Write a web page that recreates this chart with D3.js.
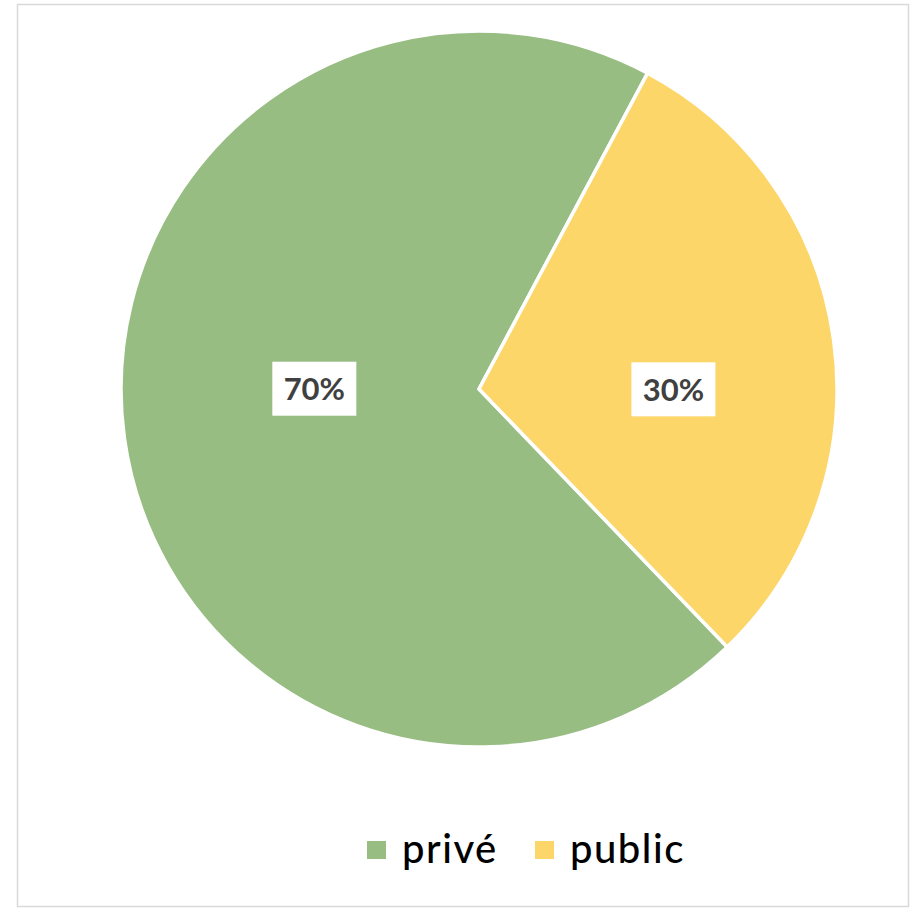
<!DOCTYPE html>
<html>
<head>
<meta charset="utf-8">
<script src="https://cdn.jsdelivr.net/npm/d3@7"></script>
<style>
  html, body { margin: 0; padding: 0; background: #ffffff; }
  svg { display: block; }
</style>
</head>
<body>
<svg id="chart" width="912" height="908"></svg>
<script>
// Data
const categories = ["privé", "public"];
const values = [70, 30];
const labels = ["70%", "30%"];
const colors = ["#97BD83", "#FCD669"];

// Layout
const W = 912, H = 908;
const cx = 479, cy = 389, R = 358;
const firstSliceAngle = 136.1;          // degrees, clockwise from 12 o'clock
const labelAngleOffset = 8;              // degrees
const labelRadiusFrac = [0.46, 0.543];

const svg = d3.select("#chart");

// Frame
svg.append("rect")
  .attr("x", 17.5).attr("y", 4.5)
  .attr("width", 891).attr("height", 902)
  .attr("fill", "#ffffff")
  .attr("stroke", "#d9d9d9")
  .attr("stroke-width", 1.5);

const start = firstSliceAngle * Math.PI / 180;
const pie = d3.pie().sort(null).value(d => d).startAngle(start).endAngle(start + 2 * Math.PI);
const arcs = pie(values);
const arc = d3.arc().innerRadius(0).outerRadius(R);

const g = svg.append("g").attr("transform", `translate(${cx},${cy})`);

g.selectAll("path.slice")
  .data(arcs)
  .join("path")
  .attr("class", "slice")
  .attr("d", arc)
  .attr("fill", (d, i) => colors[i])
  .attr("stroke", "#ffffff")
  .attr("stroke-width", 3.5)
  .attr("stroke-linejoin", "round");

// Data labels
const lab = g.selectAll("g.lab")
  .data(arcs)
  .join("g")
  .attr("class", "lab")
  .attr("transform", (d, i) => {
    const a = (d.startAngle + d.endAngle) / 2 + labelAngleOffset * Math.PI / 180;
    const r = R * labelRadiusFrac[i];
    return `translate(${r * Math.sin(a)},${-r * Math.cos(a)})`;
  });

lab.append("rect")
  .attr("x", -42).attr("y", -27)
  .attr("width", 84).attr("height", 54)
  .attr("fill", "#ffffff");

lab.append("text")
  .attr("text-anchor", "middle")
  .attr("dy", "0.36em")
  .attr("font-family", "Lato, 'Open Sans', sans-serif")
  .attr("font-weight", 700)
  .attr("font-size", 31)
  .attr("fill", "#404040")
  .text((d, i) => labels[i]);

// Legend
const legendX = [367, 535];
const legend = svg.append("g");
const items = legend.selectAll("g")
  .data(categories)
  .join("g")
  .attr("transform", (d, i) => `translate(${legendX[i]},841)`);

items.append("rect")
  .attr("width", 19).attr("height", 18)
  .attr("fill", (d, i) => colors[i]);

items.append("text")
  .attr("x", 35)
  .attr("y", 22)
  .attr("font-family", "Lato, 'Open Sans', sans-serif")
  .attr("font-size", 40)
  .attr("letter-spacing", 1.5)
  .attr("font-weight", 500)
  .attr("fill", "#000000")
  .text(d => d);
</script>
</body>
</html>
